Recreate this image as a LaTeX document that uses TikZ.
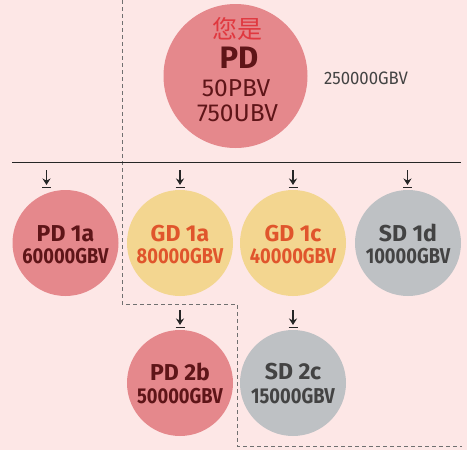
\documentclass[tikz,border=0pt]{standalone}
\usepackage{fontspec}
\usepackage{graphicx}
\setmainfont{Fira Sans}
\newfontfamily\cjk{Noto Sans CJK SC}
\usetikzlibrary{arrows.meta}
\definecolor{bg}{HTML}{FDE7E6}
\definecolor{pinkc}{HTML}{E5888C}
\definecolor{yellowc}{HTML}{F3D690}
\definecolor{grayc}{HTML}{BEC1C4}
\definecolor{darkred}{HTML}{5E1518}
\definecolor{orangec}{HTML}{E0552C}
\definecolor{darkgray}{HTML}{434343}
\definecolor{cjkred}{HTML}{E0383F}
\definecolor{dashc}{HTML}{707070}
\tikzset{
  circ/.style={circle, draw=none, inner sep=0pt},
  small/.style={circ, minimum size=106pt},
  lab1/.style={anchor=base, inner sep=0pt, font=\bfseries\fontsize{23}{23}\selectfont},
  lab2/.style={anchor=base, inner sep=0pt, font=\bfseries\fontsize{21.5}{21.5}\selectfont},
  dnarr/.pic={
    \draw[line width=1.4pt, -{Stealth[length=6.5pt,width=8pt]}] (0,0) -- (0,15);
    \draw[line width=1.4pt] (-4.5,17.5) -- (4.5,17.5);
  }
}
\begin{document}
\begin{tikzpicture}[x=1pt,y=-1pt]
\fill[bg] (0,0) rectangle (467,450);
\useasboundingbox (0,0) rectangle (467,450);

% dashed region boundary
\coordinate (d0) at (122,0);
\coordinate (d1) at (122,304);
\coordinate (d2) at (237,304);
\coordinate (d3) at (237,446);
\coordinate (d4) at (462,446);
\draw[dashc, line width=0.9pt, dash pattern=on 4pt off 3pt] (d0) -- (d1) -- (d2) -- (d3) -- (d4);

% horizontal rule
\coordinate (hl) at (12,162.5);
\coordinate (hr) at (461,162.5);
\draw[line width=1.4pt, black!85] (hl) -- (hr);

% top circle
\node[circ, fill=pinkc, minimum size=144pt] (top) at (235.5,76) {};
\node[anchor=base, inner sep=0pt, text=cjkred, font=\cjk\fontsize{25}{25}\selectfont] (t1) at (237,38.5) {您是};
\node[anchor=base, inner sep=0pt, text=darkred, font=\bfseries\fontsize{31}{31}\selectfont] (t2) at (239,68.3) {PD};
\node[anchor=base, inner sep=0pt, text=darkred, font=\fontsize{24.5}{24.5}\selectfont] (t3) at (236,96.7) {50PBV};
\node[anchor=base, inner sep=0pt, text=darkred, font=\fontsize{24.5}{24.5}\selectfont] (t4) at (237.5,121.7) {750UBV};
\node[anchor=base, inner sep=0pt, text=darkgray, font=\fontsize{18}{18}\selectfont] (tv) at (366,84) {\scalebox{0.93}[1]{250000GBV}};

% row 2 circles
\node[small, fill=pinkc] (pd1a) at (65.5,243) {};
\node[small, fill=yellowc] (gd1a) at (180,243) {};
\node[small, fill=yellowc] (gd1c) at (293,243) {};
\node[small, fill=grayc] (sd1d) at (408,243) {};

\node[lab1, text=darkred] (pd1aA) at ([yshift=2pt]pd1a.center) {PD 1a};
\node[lab2, text=darkred] (pd1aB) at ([yshift=-20pt]pd1a.center) {\scalebox{0.85}[1]{60000GBV}};
\node[lab1, text=orangec] (gd1aA) at ([yshift=2pt]gd1a.center) {GD 1a};
\node[lab2, text=orangec] (gd1aB) at ([yshift=-20pt]gd1a.center) {\scalebox{0.85}[1]{80000GBV}};
\node[lab1, text=orangec] (gd1cA) at ([yshift=2pt]gd1c.center) {GD 1c};
\node[lab2, text=orangec] (gd1cB) at ([yshift=-20pt]gd1c.center) {\scalebox{0.85}[1]{40000GBV}};
\node[lab1, text=darkgray] (sd1dA) at ([yshift=2pt]sd1d.center) {SD 1d};
\node[lab2, text=darkgray] (sd1dB) at ([yshift=-20pt]sd1d.center) {\scalebox{0.85}[1]{10000GBV}};

% row 3 circles
\node[small, fill=pinkc] (pd2b) at (180,383) {};
\node[small, fill=grayc] (sd2c) at (293,383) {};
\node[lab1, text=darkred] (pd2bA) at ([yshift=3pt]pd2b.center) {PD 2b};
\node[lab2, text=darkred] (pd2bB) at ([yshift=-20pt]pd2b.center) {\scalebox{0.85}[1]{50000GBV}};
\node[lab1, text=darkgray] (sd2cA) at ([yshift=4pt]sd2c.center) {SD 2c};
\node[lab2, text=darkgray] (sd2cB) at ([yshift=-20pt]sd2c.center) {\scalebox{0.85}[1]{15000GBV}};

% small down arrows
\pic[black!85] at (46.5,170) {dnarr};
\pic[black!85] at (180,170) {dnarr};
\pic[black!85] at (293,170) {dnarr};
\pic[black!85] at (407.5,170) {dnarr};
\pic[black!85] at (180,310) {dnarr};
\pic[black!85] at (293,310) {dnarr};
\end{tikzpicture}
\end{document}
